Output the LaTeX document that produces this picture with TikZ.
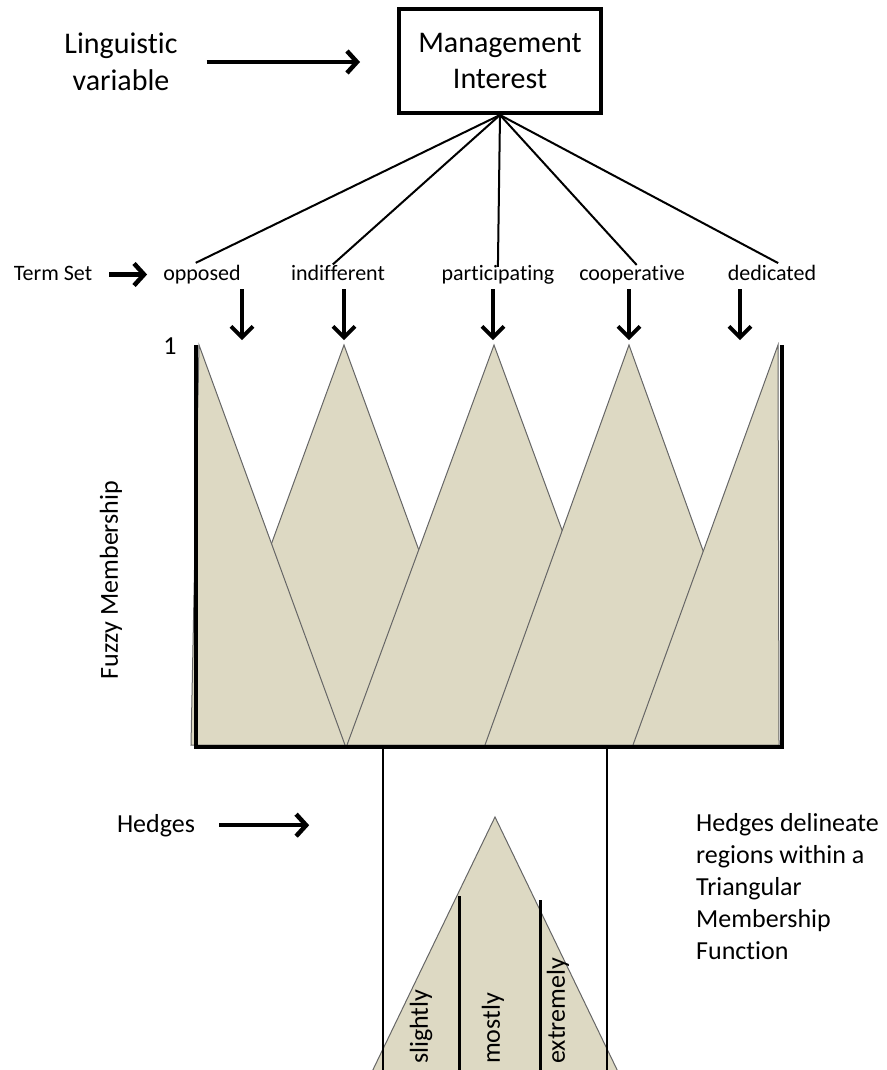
\documentclass[tikz,border=0pt]{standalone}
\usepackage{fontspec}
\setmainfont{Carlito}[Ligatures=NoCommon]
\usetikzlibrary{arrows.meta}
\definecolor{membfill}{HTML}{DDD9C3}
\tikzset{
    memb/.style={fill=membfill, draw=black!60, line width=1pt, line join=miter},
    bigarrow/.style={line width=4.5pt, -{Straight Barb[length=10pt,width=22pt]}},
    downarrow/.style={line width=4pt, -{Straight Barb[length=11pt,width=22pt]}},
    bigtext/.style={font=\fontsize{30}{36.6}\selectfont, inner sep=0pt, align=center},
    midtext/.style={font=\fontsize{26}{32}\selectfont, inner sep=0pt},
    termtext/.style={font=\fontsize{22}{27}\selectfont, inner xsep=0pt, inner ysep=4pt,
        text height=16pt, text depth=5pt, anchor=base},
}
\begin{document}
\begin{tikzpicture}[x=1pt, y=-1pt]
    \clip (0,0) rectangle (886,1070);
    % linguistic variable and its term set
    \node[bigtext] (lingvar) at (121,62) {Linguistic\\variable};
    \node[bigtext, draw, line width=4pt, minimum width=202pt, minimum height=104pt] (mgmt) at (500,61) {Management\\Interest};
    \draw[bigarrow, shorten <=29pt, shorten >=37pt] (lingvar.east) -- (lingvar.east -| mgmt.west);
    \node[termtext] (termset) at (53,280) {Term Set};
    \node[termtext] (opposed) at (202,280) {opposed};
    \node[termtext] (indiff) at (338,280) {indifferent};
    \node[termtext] (particip) at (498,280) {participating};
    \node[termtext] (coop) at (632,280) {cooperative};
    \node[termtext] (dedic) at (772,280) {dedicated};
    \draw[bigarrow, shorten <=17pt, shorten >=16pt] (termset.east) -- (termset.east -| opposed.west);
    \draw[line width=2pt, shorten >=-7pt] (mgmt.south) -- (opposed.north);
    \draw[line width=2pt, shorten >=-7pt] (mgmt.south) -- (indiff.north);
    \draw[line width=2pt, shorten >=-7pt] (mgmt.south) -- (particip.north);
    \draw[line width=2pt, shorten >=-7pt] (mgmt.south) -- (coop.north);
    \draw[line width=2pt, shorten >=-7pt] (mgmt.south) -- (dedic.north);
    \draw[downarrow] ([xshift=40pt]opposed.south) -- ++(0,51);
    \draw[downarrow] ([xshift=6pt]indiff.south) -- ++(0,51);
    \draw[downarrow] ([xshift=-5pt]particip.south) -- ++(0,51);
    \draw[downarrow] ([xshift=-3pt]coop.south) -- ++(0,51);
    \draw[downarrow] ([xshift=-32pt]dedic.south) -- ++(0,51);
    % membership functions
    \draw[memb] (344,345) -- (490,745) -- (198,745) -- cycle;
    \draw[memb] (199,345) -- (345,745) -- (191,745) -- cycle;
    \draw[memb] (494,345) -- (641,745) -- (347,745) -- cycle;
    \draw[memb] (629,345) -- (773,745) -- (485,745) -- cycle;
    \draw[memb] (778,345) -- (779,745) -- (633,745) -- cycle;
    \draw[line width=4.5pt, line join=miter] (196,345) -- (196,747) -- (782,747) -- (782,345);
    \node[midtext] (one) at (170,346) {1};
    \node[midtext, rotate=90] (fuzzy) at (111,580) {Fuzzy Membership};
    % hedges
    \draw[memb] (495,817) -- (622,1080) -- (368,1080) -- cycle;
    \draw[line width=1.5pt] (383,749) -- (383,1080);
    \draw[line width=1.5pt] (607,749) -- (607,1080);
    \draw[line width=3pt] (459,896) -- (459,1080);
    \draw[line width=3pt] (540,900) -- (540,1080);
    \node[midtext, rotate=90, anchor=west] (slightly) at (421,1064) {slightly};
    \node[midtext, rotate=90, anchor=west] (mostly) at (493,1064) {mostly};
    \node[midtext, rotate=90, anchor=west] (extremely) at (558,1064) {extremely};
    \node[midtext, anchor=base] (hedges) at (156,832) {Hedges};
    \draw[bigarrow, shorten <=24pt] (hedges.east) -- ++(114,0);
    \node[midtext, align=left, anchor=north west] (note) at (696,813) {Hedges delineate\\regions within a\\Triangular\\Membership\\Function};
\end{tikzpicture}
\end{document}
